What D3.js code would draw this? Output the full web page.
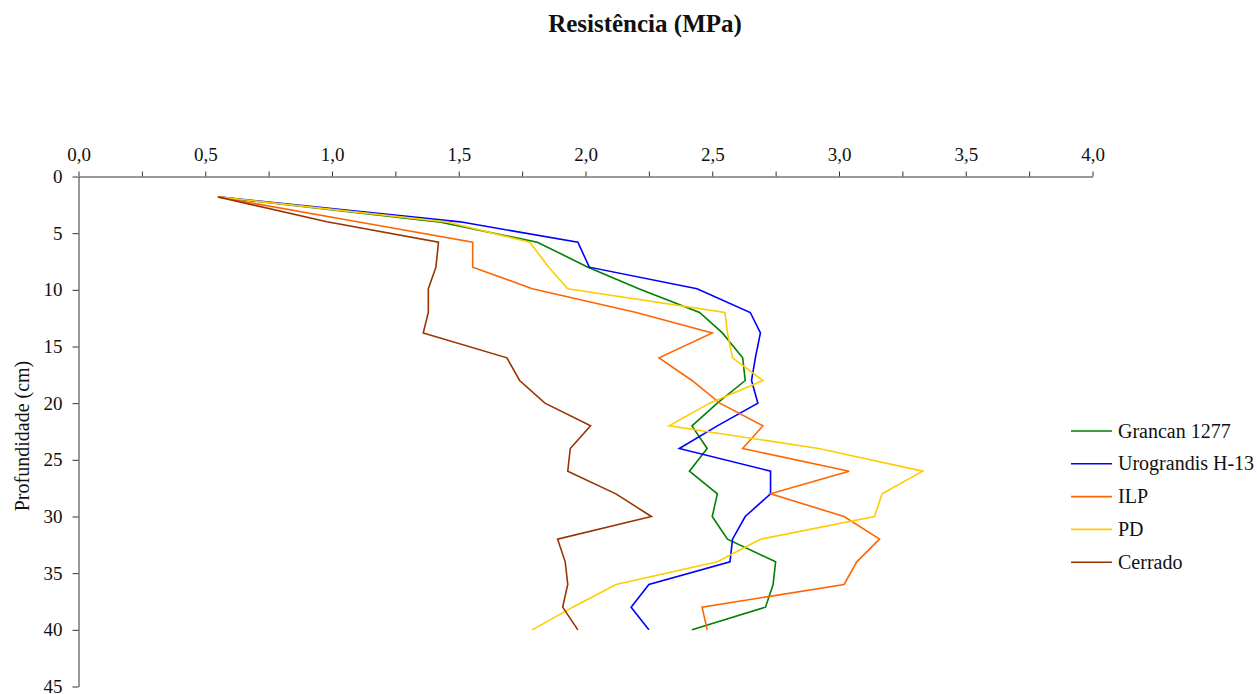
<!DOCTYPE html>
<html>
<head>
<meta charset="utf-8">
<script src="https://cdn.jsdelivr.net/npm/d3@7"></script>
<style>
  body { margin: 0; background: #fff; }
  text { font-family: "Liberation Serif", "Times New Roman", serif; fill: #111; }
</style>
</head>
<body>
<script>
// depth of each reading (cm)
var depths = [1.8, 4, 5.8, 8, 9.9, 12, 13.8, 16, 18, 20, 22, 24, 26, 28, 30, 32, 34, 36, 38, 40];

// resistance (MPa) per treatment
var grancan = [0.55, 1.42, 1.81, 2.01, 2.21, 2.45, 2.54, 2.62, 2.63, 2.52, 2.42, 2.48, 2.41, 2.52, 2.50, 2.56, 2.75, 2.74, 2.71, 2.42];
var urograndis = [0.55, 1.505, 1.97, 2.015, 2.44, 2.65, 2.69, 2.67, 2.655, 2.68, 2.52, 2.37, 2.73, 2.73, 2.63, 2.58, 2.57, 2.25, 2.18, 2.25];
var ilp = [0.55, 1.10, 1.555, 1.555, 1.79, 2.20, 2.50, 2.29, 2.42, 2.53, 2.70, 2.62, 3.04, 2.73, 3.02, 3.16, 3.07, 3.02, 2.46, 2.48];
var pd = [0.55, 1.45, 1.78, 1.855, 1.93, 2.55, 2.56, 2.58, 2.70, 2.49, 2.33, 2.92, 3.33, 3.17, 3.14, 2.69, 2.52, 2.12, 1.95, 1.79];
var cerrado = [0.55, 0.98, 1.42, 1.41, 1.38, 1.38, 1.36, 1.69, 1.74, 1.84, 2.02, 1.94, 1.93, 2.12, 2.26, 1.89, 1.92, 1.93, 1.91, 1.97];

var seriesNames = ["Grancan 1277", "Urograndis H-13", "ILP", "PD", "Cerrado"];
var seriesColors = ["#008000", "#0000ff", "#ff6600", "#ffcc00", "#993300"];
var seriesValues = [grancan, urograndis, ilp, pd, cerrado];

var xTicks = [0, 0.25, 0.5, 0.75, 1, 1.25, 1.5, 1.75, 2, 2.25, 2.5, 2.75, 3, 3.25, 3.5, 3.75, 4];
var yTicks = [0, 5, 10, 15, 20, 25, 30, 35, 40, 45];

var width = 1257, height = 694;

var svg = d3.select('body').append('svg')
    .attr('width', width)
    .attr('height', height);

var xScale = d3.scaleLinear().domain([0, 4]).range([78.5, 1092.5]);
var yScale = d3.scaleLinear().domain([0, 45]).range([176.5, 686.5]);

var fmt = d3.formatLocale({decimal: ",", thousands: ".", grouping: [3], currency: ["", ""]}).format(".1f");

// x axis on top
var xAxis = d3.axisTop(xScale)
    .tickValues(xTicks)
    .tickSize(5)
    .tickSizeOuter(0)
    .tickFormat(function(d) { return (d * 2) % 1 === 0 ? fmt(d) : ""; });

var gx = svg.append('g')
    .attr('transform', 'translate(0,' + yScale(0) + ')')
    .call(xAxis);
gx.selectAll('text')
    .attr('font-size', '19px')
    .attr('font-family', '"Liberation Serif", serif')
    .attr('fill', '#111')
    .attr('y', -16);

// y axis on the left
var yAxis = d3.axisLeft(yScale)
    .tickValues(yTicks)
    .tickSize(6)
    .tickSizeOuter(0)
    .tickFormat(d3.format("d"));

var gy = svg.append('g')
    .attr('transform', 'translate(' + xScale(0) + ',0)')
    .call(yAxis);
gy.selectAll('text')
    .attr('font-size', '19px')
    .attr('font-family', '"Liberation Serif", serif')
    .attr('fill', '#111')
    .attr('x', -16);

svg.selectAll('.domain, .tick line')
    .attr('stroke', '#333')
    .attr('stroke-width', 1);

// lines
var line = d3.line()
    .x(function(d) { return xScale(d[0]); })
    .y(function(d) { return yScale(d[1]); });

seriesValues.forEach(function(vals, i) {
    var pts = vals.map(function(v, j) { return [v, depths[j]]; });
    svg.append('path')
        .attr('d', line(pts))
        .attr('fill', 'none')
        .attr('stroke', seriesColors[i])
        .attr('stroke-width', 1.6)
        .attr('stroke-linejoin', 'miter');
});

// title
svg.append('text')
    .attr('x', 645)
    .attr('y', 32)
    .attr('text-anchor', 'middle')
    .attr('font-size', '25px')
    .attr('font-weight', 'bold')
    .text('Resistência (MPa)');

// y label
svg.append('text')
    .attr('transform', 'translate(29,' + 436 + ') rotate(-90)')
    .attr('text-anchor', 'middle')
    .attr('font-size', '20px')
    .text('Profundidade (cm)');

// legend
var legend = svg.append('g');
seriesNames.forEach(function(name, i) {
    var y = 431 + i * 32.8;
    legend.append('line')
        .attr('x1', 1071).attr('x2', 1112)
        .attr('y1', y).attr('y2', y)
        .attr('stroke', seriesColors[i])
        .attr('stroke-width', 1.6);
    legend.append('text')
        .attr('x', 1118)
        .attr('y', y)
        .attr('dy', '0.33em')
        .attr('font-size', '20px')
        .text(name);
});
</script>
</body>
</html>
